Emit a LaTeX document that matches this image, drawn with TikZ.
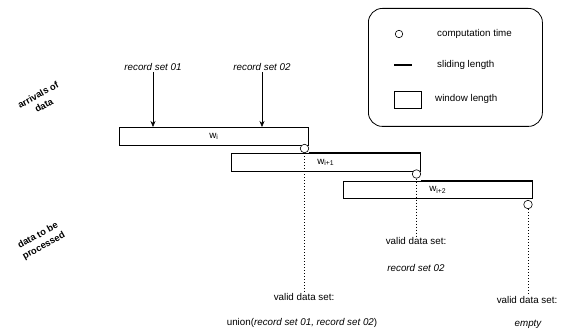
\documentclass[tikz,border=0pt]{standalone}
\usepackage{fontspec}
\setmainfont{Liberation Sans}
\usetikzlibrary{arrows.meta}
\begin{document}
\begin{tikzpicture}[x=1pt,y=-1pt, font=\fontsize{9.8}{11}\selectfont,
  win/.style={draw, line width=0.6pt, minimum width=189pt, minimum height=18pt, inner sep=0pt, anchor=north west},
  ctime/.style={draw, circle, fill=white, minimum size=8.5pt, inner sep=0pt, line width=0.6pt},
  slide/.style={line width=2pt},
  valid/.style={dotted, line width=1pt},
  arr/.style={-{Stealth[length=6pt,width=5pt]}, line width=0.6pt},
  side/.style={font=\fontsize{9.4}{12}\selectfont\bfseries, rotate=29, align=center},
  itl/.style={inner sep=1pt, font=\fontsize{9.8}{11}\selectfont\itshape},
  lbl/.style={inner sep=1pt}]
\useasboundingbox (0,0) rectangle (567,331);

% legend
\node[draw, rounded corners=14pt, line width=0.8pt, minimum width=174pt, minimum height=118pt, anchor=north west] (legend) at (368,8) {};
\node[ctime, minimum size=7.5pt] (lc) at (399,34) {};
\node[lbl, anchor=west] (lct) at (436,34) {computation time};
\coordinate (ls1) at (394,65);
\coordinate (ls2) at (412,65);
\draw[slide] (ls1) -- (ls2);
\node[lbl, anchor=west] (lsl) at (436,65) {sliding length};
\node[draw, line width=0.6pt, minimum width=27pt, minimum height=17pt, inner sep=0pt] (lw) at (407.5,99.5) {};
\node[lbl, anchor=west] (lwl) at (434,99) {window length};

% side labels
\node[side] (arr) at (41,100) {arrivals of\\data};
\node[side] (proc) at (41,241) {data to be\\processed};

% windows
\node[win] (w0) at (119,127) {};
\node[win] (w1) at (231,153) {};
\node[win, minimum height=17pt] (w2) at (343,181) {};
\node[lbl] at (w0.center) {w\textsubscript{i}};
\node[lbl] at (w1.center) {w\textsubscript{i+1}};
\node[lbl] at (w2.center) {w\textsubscript{i+2}};

% sliding lengths
\draw[slide] (w0.east |- w1.north) -- (w1.north east);
\draw[slide] (w1.east |- w2.north) -- (w2.north east);

% arrivals
\node[itl] (r1) at (153,67) {record set 01};
\node[itl] (r2) at (262,67) {record set 02};
\draw[arr] (r1.south) -- (r1.south |- w0.north);
\draw[arr] (r2.south) -- (r2.south |- w0.north);

% computation times
\node[ctime] (c0) at (304.5,148.5) {};
\node[ctime] (c1) at (416.5,174) {};
\node[ctime] (c2) at (528,204.5) {};

% valid data sets
\node[lbl] (v0) at (304,297) {valid data set:};
\node[lbl] (u0) at (302,323) {union(\textit{record set 01, record set 02})};
\node[lbl] (v1) at (416,241) {valid data set:};
\node[itl] (u1) at (416,268) {record set 02};
\node[lbl] (v2) at (527,300) {valid data set:};
\node[itl] (u2) at (528,324) {empty};

\draw[valid] (c0.south) -- (c0.south |- v0.north);
\draw[valid] (c1.south) -- (c1.south |- v1.north);
\draw[valid] (c2.south) -- (c2.south |- v2.north);
\end{tikzpicture}
\end{document}
